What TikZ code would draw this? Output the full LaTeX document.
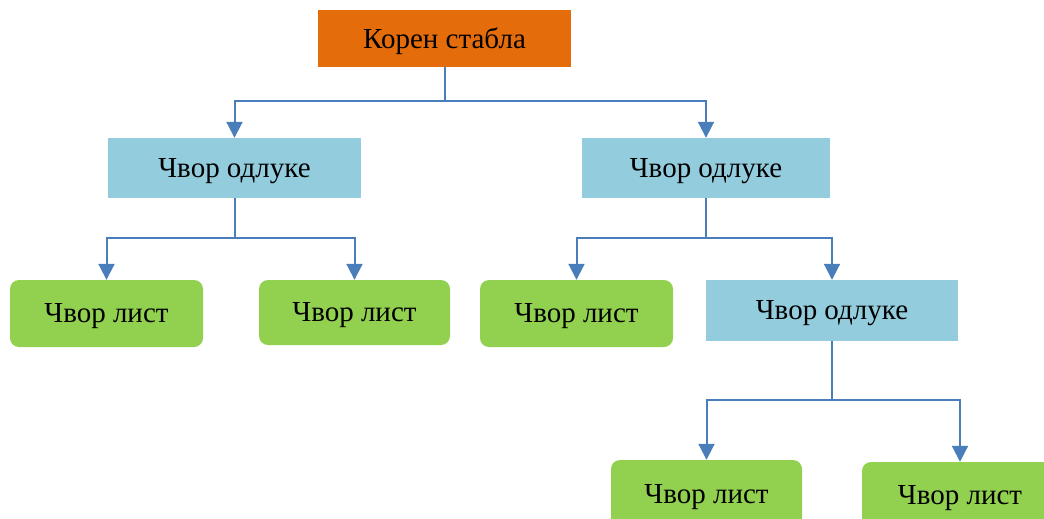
\documentclass[tikz,border=0pt]{standalone}
\usepackage{fontspec}
\setmainfont{Liberation Serif}
\usetikzlibrary{arrows.meta}
\definecolor{rootorange}{HTML}{E46C0A}
\definecolor{decblue}{HTML}{93CDDD}
\definecolor{leafgreen}{HTML}{92D050}
\definecolor{linkblue}{HTML}{4A7EBB}
\tikzset{
  base/.style={inner sep=0pt, text depth=0pt, font=\fontsize{29}{34}\selectfont, text=black},
  rootbox/.style={base, fill=rootorange},
  decision/.style={base, fill=decblue},
  leaf/.style={base, fill=leafgreen, rounded corners=9pt},
  link/.style={draw=linkblue, line width=2pt},
  linkarrow/.style={link, -{Triangle[length=16pt,width=16pt]}},
}
\begin{document}
\begin{tikzpicture}[x=1pt,y=-1pt]
\useasboundingbox (0,0) rectangle (1044,519);
\clip (0,0) rectangle (1044,519);
% nodes
\node[rootbox, minimum width=253pt, minimum height=57pt] (root) at (444.5,38.5) {Корен стабла};
\node[decision, minimum width=253pt, minimum height=60pt] (d1) at (234.5,168) {Чвор одлуке};
\node[decision, minimum width=248pt, minimum height=60pt] (d2) at (706,168) {Чвор одлуке};
\node[leaf, minimum width=193pt, minimum height=67pt] (l1) at (106.5,313.5) {Чвор лист};
\node[leaf, minimum width=191pt, minimum height=65pt] (l2) at (354.5,312.5) {Чвор лист};
\node[leaf, minimum width=193pt, minimum height=67pt] (l3) at (576.5,313.5) {Чвор лист};
\node[decision, minimum width=252pt, minimum height=61pt] (d3) at (832,310.5) {Чвор одлуке};
\node[leaf, minimum width=191pt, minimum height=67pt] (l4) at (706.5,493.5) {Чвор лист};
\node[leaf, minimum width=196pt, minimum height=67pt] (l5) at (960,495.5) {Чвор лист};
% junction points of the connectors, straight below each parent
\path (root.south) ++(0,34) coordinate (j0);
\path (d1.south) ++(0,40) coordinate (j1);
\path (d2.south) ++(0,40) coordinate (j2);
\path (d3.south) ++(0,59) coordinate (j3);
\draw[link] (root.south) -- (j0);
\draw[linkarrow] (j0) -| (d1.north);
\draw[linkarrow] (j0) -| (d2.north);
\draw[link] (d1.south) -- (j1);
\draw[linkarrow] (j1) -| (l1.north);
\draw[linkarrow] (j1) -| (l2.north);
\draw[link] (d2.south) -- (j2);
\draw[linkarrow] (j2) -| (l3.north);
\draw[linkarrow] (j2) -| (d3.north);
\draw[link] (d3.south) -- (j3);
\draw[linkarrow] (j3) -| (l4.north);
\draw[linkarrow] (j3) -| (l5.north);
\end{tikzpicture}
\end{document}
